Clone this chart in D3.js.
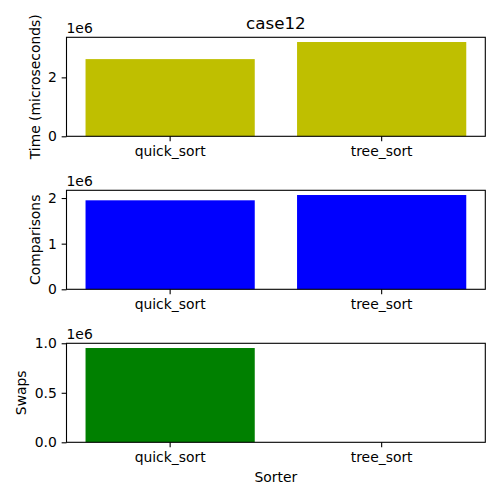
<!DOCTYPE html>
<html>
<head>
<meta charset="utf-8">
<script src="https://cdn.jsdelivr.net/npm/d3@7"></script>
<style>
  html, body { margin: 0; padding: 0; background: #fff; }
  svg { display: block; font-family: "DejaVu Sans", sans-serif; }
</style>
</head>
<body>
<svg id="chart" width="500" height="500"></svg>
<script>
// ---- data ----
const title = "case12";
const sorters = ["quick_sort", "tree_sort"];
const timeValues = [2620000, 3200000];
const comparisonValues = [1950000, 2066000];
const swapValues = [952000, 0];
const timeTicks = [0, 2];
const comparisonTicks = [0, 1, 2];
const swapTicks = [0.0, 0.5, 1.0];
const panels = [
  { label: "Time (microseconds)", values: timeValues, ticks: timeTicks, fmt: "d", color: "#bfbf00" },
  { label: "Comparisons", values: comparisonValues, ticks: comparisonTicks, fmt: "d", color: "#0000ff" },
  { label: "Swaps", values: swapValues, ticks: swapTicks, fmt: ".1f", color: "#008000" }
];

// ---- layout ----
const svg = d3.select("#chart");
const left = 66.5, right = 485.3;
const tops = [37.3, 190.3, 343.3];
const ph = 99;
const tickLen = 4.86, tickPad = 4.86;
const fs = 13.9;

const x = d3.scaleBand().domain(sorters).range([left, right])
  .paddingInner(0.2).paddingOuter(0.09);

panels.forEach((p, i) => {
  const top = tops[i], bottom = top + ph;
  const maxV = d3.max(p.values) / 1e6;
  const y = d3.scaleLinear().domain([0, maxV * 1.05]).range([bottom, top]);
  const g = svg.append("g");

  g.selectAll("rect.bar").data(sorters).join("rect")
    .attr("class", "bar")
    .attr("x", d => x(d))
    .attr("width", x.bandwidth())
    .attr("y", (d, j) => y(p.values[j] / 1e6))
    .attr("height", (d, j) => y(0) - y(p.values[j] / 1e6))
    .attr("fill", p.color);

  const yAxis = g.append("g").attr("transform", `translate(${left},0)`)
    .call(d3.axisLeft(y).tickValues(p.ticks).tickFormat(d3.format(p.fmt))
      .tickSize(tickLen).tickPadding(tickPad));
  const xAxis = g.append("g").attr("transform", `translate(0,${bottom})`)
    .call(d3.axisBottom(x).tickSize(tickLen).tickPadding(tickPad));
  [yAxis, xAxis].forEach(a => {
    a.select(".domain").remove();
    a.selectAll("text").attr("font-size", fs).attr("font-family", "DejaVu Sans").attr("fill", "#000");
    a.selectAll("line").attr("stroke", "#000").attr("stroke-width", 1.1);
  });

  // frame
  g.append("rect")
    .attr("x", left).attr("y", top)
    .attr("width", right - left).attr("height", ph)
    .attr("fill", "none").attr("stroke", "#000").attr("stroke-width", 1.1);

  // offset text
  g.append("text").attr("x", left).attr("y", top - 4.5)
    .attr("font-size", fs).text("1e6");

  // y label
  const lx = p.label === "Swaps" ? 26 : 39.5;
  g.append("text")
    .attr("transform", `translate(${lx},${(top + bottom) / 2}) rotate(-90)`)
    .attr("text-anchor", "middle").attr("font-size", fs).text(p.label);
});

// title
svg.append("text").attr("x", (left + right) / 2).attr("y", 29)
  .attr("text-anchor", "middle").attr("font-size", 16.7).text(title);

// x label
svg.append("text").attr("x", (left + right) / 2).attr("y", 482)
  .attr("text-anchor", "middle").attr("font-size", fs).text("Sorter");
</script>
</body>
</html>
